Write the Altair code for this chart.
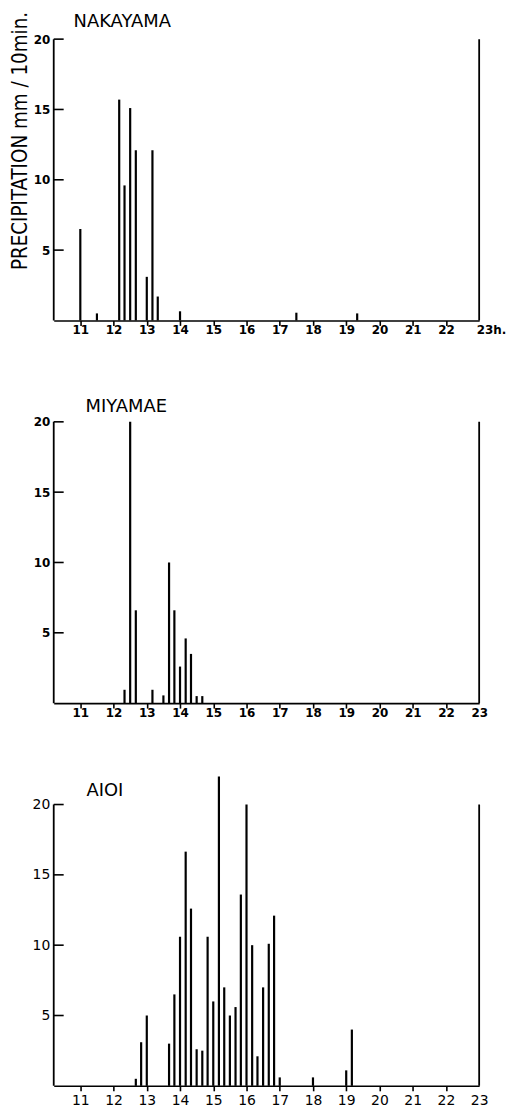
import altair as alt
import pandas as pd

# ---- data (hour of day, precipitation mm / 10 min) ----
nak_hour = [11.0, 11.5, 12.17, 12.33, 12.5, 12.67, 13.0, 13.17, 13.33, 14.0, 17.5, 19.33]
nak_mm = [6.5, 0.5, 15.7, 9.6, 15.1, 12.1, 3.1, 12.1, 1.7, 0.65, 0.55, 0.5]

miy_hour = [12.33, 12.5, 12.67, 13.17, 13.5, 13.67, 13.83, 14.0, 14.17, 14.33, 14.5, 14.67]
miy_mm = [0.95, 20.0, 6.6, 0.95, 0.55, 10.0, 6.6, 2.6, 4.6, 3.5, 0.5, 0.5]

aio_hour = [12.67, 12.83, 13.0, 13.67, 13.83, 14.0, 14.17, 14.33, 14.5, 14.67, 14.83,
            15.0, 15.17, 15.33, 15.5, 15.67, 15.83, 16.0, 16.17, 16.33, 16.5, 16.67,
            16.83, 17.0, 18.0, 19.0, 19.17]
aio_mm = [0.5, 3.1, 5.0, 3.0, 6.5, 10.6, 16.65, 12.6, 2.6, 2.5, 10.6,
          6.0, 22.0, 7.0, 5.0, 5.6, 13.6, 20.0, 10.0, 2.1, 7.0, 10.1,
          12.1, 0.6, 0.6, 1.1, 4.0]

x_ticks = [11, 12, 13, 14, 15, 16, 17, 18, 19, 20, 21, 22, 23]
y_ticks = [5, 10, 15, 20]
x_domain = [10.2, 23]
y_domain = [0, 20]
frame_hours = [10.2, 23]   # left axis line and right frame line
frame_top = [20, 20]

FONT = "DejaVu Sans"
W, H = 428, 283


def panel(name, hours, mm, title_dx, title_offset, first, lab_size, lab_weight, ylab_size, xpad):
    df = pd.DataFrame({"hour": hours, "mm": mm, "base": [0] * len(hours)})
    frame = pd.DataFrame({"hour": frame_hours, "mm": frame_top, "base": [0, 0]})
    ticks = pd.DataFrame({"mm": y_ticks})

    x_axis = alt.Axis(
        values=x_ticks, tickCount=len(x_ticks) + 5, title=None, grid=False, domain=True,
        domainColor="black", domainWidth=1.6, tickSize=5, tickWidth=1.6,
        tickColor={"condition": {"test": "datum.value == 23", "value": "transparent"}, "value": "black"},
        labelFont=FONT, labelFontSize=lab_size, labelFontWeight=lab_weight, labelColor="black",
        labelPadding=xpad, labelOverlap=False, labelFlush=False, labelBound=False,
        labelExpr="datum.value == 23 ? '23h.' : datum.label" if first else "datum.label",
        labelAlign={"condition": {"test": "datum.value == 23", "value": "left"}, "value": "center"} if first else "center",
        labelOffset={"condition": {"test": "datum.value == 23", "value": -3}, "value": 0} if first else 0,
    )
    y_kwargs = dict(
        values=y_ticks, tickCount=10, grid=False, domain=False,
        ticks=False, labelFont=FONT, labelFontSize=ylab_size, labelFontWeight=lab_weight,
        labelColor="black", labelPadding=4, labelOverlap=False, labelFlush=False, labelBound=False,
    )
    if first:
        y_axis = alt.Axis(
            title="PRECIPITATION  mm / 10min.",
            titleFont="Liberation Sans Narrow, DejaVu Sans Condensed, DejaVu Sans",
            titleFontSize=20.5, titleFontWeight="normal", titleColor="black",
            titleAngle=270, titleX=-33, titleY=102, titleAlign="center", titleBaseline="middle",
            **y_kwargs,
        )
    else:
        y_axis = alt.Axis(title=None, **y_kwargs)

    xs = alt.Scale(domain=x_domain, nice=False, zero=False)
    ys = alt.Scale(domain=y_domain, nice=False)

    bars = alt.Chart(df).mark_rule(strokeWidth=2.2, color="black").encode(
        x=alt.X("hour:Q", scale=xs, axis=x_axis),
        y=alt.Y("mm:Q", scale=ys, axis=y_axis),
        y2="base:Q",
    )
    frame_lines = alt.Chart(frame).mark_rule(strokeWidth=1.8, color="black").encode(
        x=alt.X("hour:Q"),
        y=alt.Y("mm:Q"),
        y2="base:Q",
    )
    yt = alt.Chart(ticks).mark_rule(strokeWidth=1.6, color="black").encode(
        y=alt.Y("mm:Q"),
        x=alt.value(0), x2=alt.value(10),
    )
    return alt.layer(bars, frame_lines, yt).properties(
        width=W, height=H,
        title=alt.TitleParams(
            name, anchor="start", frame="group", dx=title_dx, offset=title_offset,
            font=FONT, fontSize=18, fontWeight="normal", color="black", baseline="alphabetic",
        ),
    )


p1 = panel("NAKAYAMA", nak_hour, nak_mm, 20, -37, True, 12, "bold", 12, -1)
p2 = panel("MIYAMAE", miy_hour, miy_mm, 32, -14, False, 12, "bold", 12, -1)
p3 = panel("AIOI", aio_hour, aio_mm, 33, -38.7, False, 14, "normal", 14, 3)

chart = alt.vconcat(p1, p2, p3, spacing=102, bounds="flush").configure_view(strokeWidth=0).properties(
    background="white", padding={"left": 2, "top": -3, "right": 0, "bottom": 0}
)

chart.save("out.html", embed_options={"renderer": "svg", "actions": False})
